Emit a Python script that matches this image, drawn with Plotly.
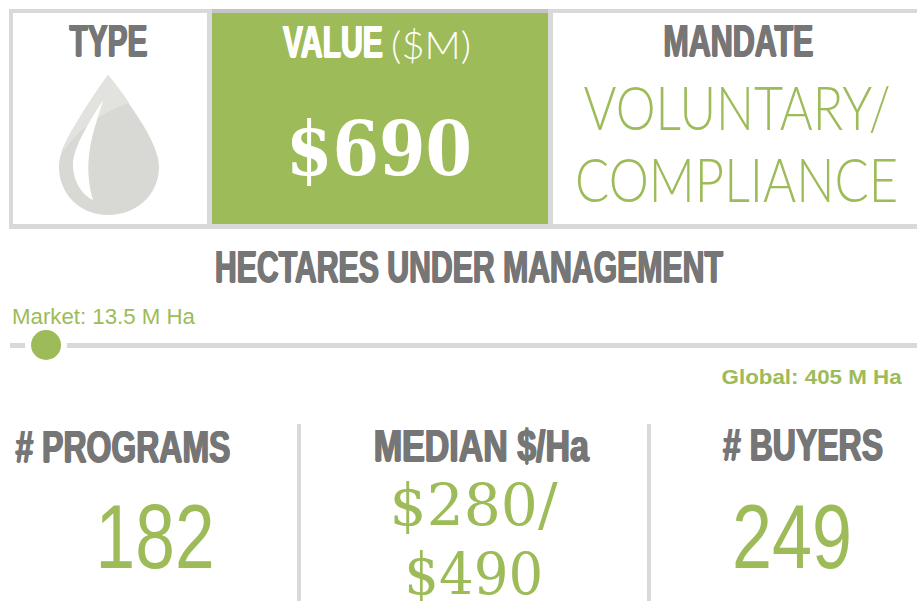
import json
import plotly.graph_objects as go

# ---- data ----
market_label = "Market: 13.5 M Ha"
global_label = "Global: 405 M Ha"
market_ha = [13.5]
global_ha = 405
stat_titles = ["# PROGRAMS", "MEDIAN $/Ha", "# BUYERS"]
stat_programs = "182"
stat_median = ["$280/", "$490"]
stat_buyers = "249"
value_amount = "$690"
mandate_lines = ["VOLUNTARY/", "COMPLIANCE"]

GREEN = "#9dbb58"
GREY = "#767676"
LINE = "#d9d9d9"
W, H = 917, 601
HEAD = "Liberation Sans"
THIN = "Lato"
SERIF = "DejaVu Serif"
THICK = "1px 0 0 {c}, -1px 0 0 {c}, 0 0.5px 0 {c}"

fig = go.Figure()

fig.add_trace(go.Scatter(
    x=market_ha, y=[345], xaxis="x2", yaxis="y", mode="markers",
    marker=dict(size=36, color=GREEN, line=dict(color="white", width=6)),
    showlegend=False, hoverinfo="skip"))


def rect(x0, y0, x1, y1, c):
    return dict(type="rect", x0=x0, y0=y0, x1=x1, y1=y1, fillcolor=c,
                line=dict(width=0), layer="below")


drop = ("M 108 75 C 97 90 82 113 71 132 C 62 148 59 158 59 167 "
        "C 59 195 81 215 108 215 C 136 215 159 195 159 167 "
        "C 159 155 152 140 143 125 C 132 107 118 88 108 75 Z")
shine = ("M 103 100 C 92 118 73 146 73 165 C 73 181 82 195 93 200 "
         "C 88 185 87 165 90 148 C 93 130 99 115 103 100 Z")
sheen = ("M 108 75 C 97 90 82 113 71 132 C 66 141 62 148 60 157 "
         "C 75 130 103 112 129 103 C 122 92 115 83 108 75 Z")

shapes = [
    rect(9, 9, W, 229, LINE),
    rect(13, 13, 207, 224, "white"),
    rect(553, 13, W, 224, "white"),
    rect(212, 9, 548, 13, "#c4c4c4"),
    rect(212, 13, 548, 224, GREEN),
    dict(type="path", path=drop, fillcolor="#d8d8d4", line=dict(width=0), layer="below"),
    dict(type="path", path=sheen, fillcolor="#e2e2df", line=dict(width=0), layer="below"),
    dict(type="path", path=shine, fillcolor="white", line=dict(width=0), layer="below"),
    rect(10, 343, W, 348, LINE),
    rect(297, 424, 301, H, LINE),
    rect(647, 424, 651, H, LINE),
]

fit_widths = {}


def txt(x, y, s, size, color, width, family=HEAD, weight=400, shadow=None):
    fit_widths[s] = width
    font = dict(family=family, size=size, color=color, weight=weight)
    if shadow:
        font["shadow"] = shadow
    return dict(x=x, y=y, xref="x", yref="y", text=s, showarrow=False, font=font,
                xanchor="center", yanchor="middle")


def head(x, y, s, width, color=GREY):
    return txt(x, y, s, 44, color, width, weight=700, shadow=THICK.format(c=color))


annotations = [
    head(108, 40, "TYPE", 78),
    head(333, 41, "VALUE", 100, "white"),
    txt(431, 44, "($M)", 38, "white", 80, family=THIN, weight=300),
    txt(379, 149, value_amount, 74, "white", 186, family=SERIF, weight=700),
    head(738, 40, "MANDATE", 150),
    txt(736.5, 106, mandate_lines[0], 62, GREEN, 307, family=THIN, weight=300),
    txt(736.5, 178, mandate_lines[1], 62, GREEN, 323, family=THIN, weight=300),
    head(469, 266, "HECTARES UNDER MANAGEMENT", 508),
    txt(103.5, 316, market_label, 22, GREEN, 183),
    txt(812, 377, global_label, 20, GREEN, 180, weight=700),
    head(122.5, 446, stat_titles[0], 215),
    head(481.5, 445, stat_titles[1], 215),
    head(803, 444, stat_titles[2], 160),
    txt(154.5, 537, stat_programs, 90, GREEN, 119),
    txt(474, 505, stat_median[0], 58, GREEN, 168, family=SERIF),
    txt(473.5, 574, stat_median[1], 58, GREEN, 139, family=SERIF),
    txt(792, 537, stat_buyers, 90, GREEN, 120),
]

fig.update_layout(
    width=W, height=H, margin=dict(l=0, r=0, t=0, b=0),
    paper_bgcolor="white", plot_bgcolor="white", showlegend=False,
    xaxis=dict(range=[0, W], visible=False, domain=[0, 1], fixedrange=True),
    xaxis2=dict(range=[-7.19, global_ha], visible=False,
                overlaying="x", anchor="y", fixedrange=True),
    yaxis=dict(range=[H, 0], visible=False, domain=[0, 1], fixedrange=True),
    shapes=shapes, annotations=annotations,
)

post = """
document.documentElement.style.overflow='hidden';
document.body.style.margin='0';
var fit = %s;
document.querySelectorAll('.annotation-text').forEach(function(t){
  var w = fit[t.textContent];
  if (w) { t.setAttribute('textLength', w); t.setAttribute('lengthAdjust', 'spacingAndGlyphs'); }
});
""" % json.dumps(fit_widths)
fig.write_html("out.html", config=dict(displayModeBar=False), post_script=post)
